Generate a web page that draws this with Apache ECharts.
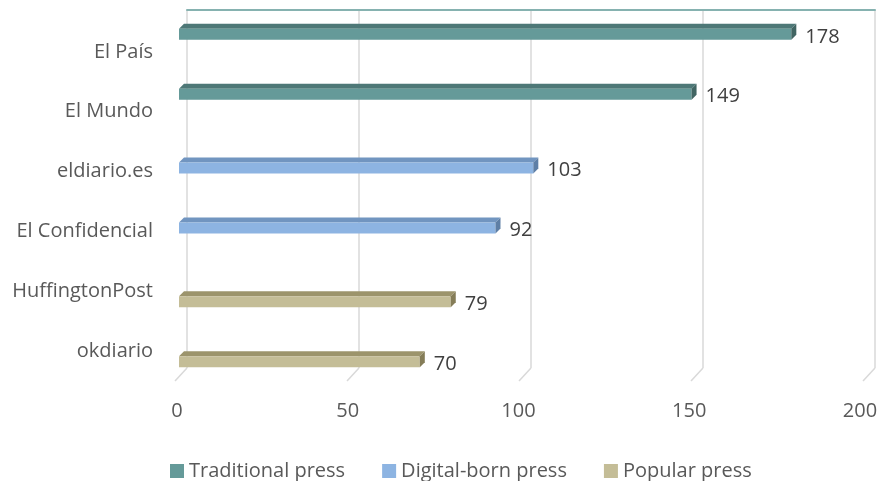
<!DOCTYPE html>
<html>
<head>
<meta charset="utf-8">
<script src="https://cdn.jsdelivr.net/npm/echarts@6/dist/echarts.min.js"></script>
<style>html,body{margin:0;padding:0;background:#fff;}#c{width:884px;height:481px;}</style>
</head>
<body>
<div id="c"></div>
<script>
var categories = ['El País', 'El Mundo', 'eldiario.es', 'El Confidencial', 'HuffingtonPost', 'okdiario'];
var seriesNames = ['Traditional press', 'Digital-born press', 'Popular press'];
var traditional = [178, 149, null, null, null, null];
var digital = [null, null, 103, 92, null, null];
var popular = [null, null, null, null, 79, 70];
var xTicks = [0, 50, 100, 150, 200];

var palette = [
  {front: '#659A99', top: '#4E7877', side: '#416563'},
  {front: '#8DB4E2', top: '#7195C0', side: '#5E7FA6'},
  {front: '#C4BD97', top: '#9C946C', side: '#857D58'}
];
var FONT = '"Open Sans", sans-serif';

function toData(arr) {
  var out = [];
  arr.forEach(function (v, i) { if (v != null) out.push([v, i]); });
  return out;
}

function bar3d(idx) {
  var col = palette[idx];
  return function (params, api) {
    var v = api.value(0), cat = api.value(1);
    var p0 = api.coord([0, cat]);
    var p1 = api.coord([v, cat]);
    var band = api.size([0, 1])[1];
    var cy = p0[1] + (idx - 1) * band * 0.235;
    var x0 = p0[0], x1 = p1[0];
    var dx = 5, dy = 5;
    var yt = cy - 4, yb = cy + 7;
    return {
      type: 'group',
      children: [
        {type: 'polygon', shape: {points: [[x0, yt], [x1, yt], [x1 + dx, yt - dy], [x0 + dx, yt - dy]]}, style: {fill: col.top}},
        {type: 'rect', shape: {x: x0, y: yt, width: x1 - x0, height: yb - yt}, style: {fill: col.front}},
        {type: 'polygon', shape: {points: [[x1, yt], [x1 + dx, yt - dy], [x1 + dx, yb - dy], [x1, yb]]}, style: {fill: col.side}},
        {type: 'text', style: {text: String(v), x: x1 + dx + 9, y: cy + 4, textVerticalAlign: 'middle', textAlign: 'left', fill: '#404040', font: '20px ' + FONT}}
      ]
    };
  };
}

function floorLines(params, api) {
  var t = api.value(0);
  var p = api.coord([t, 0]);
  var bottom = params.coordSys.y + params.coordSys.height;
  return {
    type: 'line',
    shape: {x1: p[0], y1: bottom, x2: p[0] - 12, y2: bottom + 13},
    style: {stroke: '#D9D9D9', lineWidth: 1.5}
  };
}

var chart = echarts.init(document.getElementById('c'), null, {renderer: 'canvas'});
var option = {
  animation: false,
  backgroundColor: '#fff',
  textStyle: {fontFamily: FONT},
  grid: [
    {left: 187, right: 9, top: 10, bottom: 113},
    {left: 179, right: 17, top: 17, bottom: 105},
    {left: 177, right: 24, top: 370, height: 20},
    {left: 179, right: 17, top: 22, bottom: 100}
  ],
  xAxis: [
    {gridIndex: 0, type: 'value', min: 0, max: 200, interval: 50, position: 'top',
      axisLine: {show: true, lineStyle: {color: '#86B2B0', width: 2}},
      axisTick: {show: false}, axisLabel: {show: false},
      splitLine: {show: true, lineStyle: {color: '#D9D9D9', width: 1.5}}},
    {gridIndex: 1, type: 'value', min: 0, max: 200, interval: 50,
      axisLine: {show: false}, axisTick: {show: false}, axisLabel: {show: false}, splitLine: {show: false}},
    {gridIndex: 2, type: 'value', min: 0, max: 200, interval: 50,
      axisLine: {show: false}, axisTick: {show: false}, splitLine: {show: false},
      axisLabel: {show: true, margin: 11, color: '#595959', fontSize: 20, fontFamily: FONT}},
    {gridIndex: 3, type: 'value', min: 0, max: 200, show: false}
  ],
  yAxis: [
    {gridIndex: 0, type: 'category', data: categories, inverse: true, show: false},
    {gridIndex: 1, type: 'category', data: categories, inverse: true, show: false},
    {gridIndex: 2, type: 'value', show: false},
    {gridIndex: 3, type: 'category', data: categories, inverse: true,
      axisLine: {show: false}, axisTick: {show: false}, splitLine: {show: false},
      axisLabel: {margin: 26, color: '#595959', fontSize: 20, fontFamily: FONT}}
  ],
  legend: {
    left: 165, top: 456,
    icon: 'rect', itemWidth: 14, itemHeight: 14, itemGap: 37,
    textStyle: {color: '#595959', fontSize: 20, fontFamily: FONT},
    data: seriesNames
  },
  series: [
    {type: 'custom', name: 'floor', xAxisIndex: 0, yAxisIndex: 0, renderItem: floorLines,
      data: xTicks.map(function (t) { return [t]; }), silent: true, z: 1},
    {type: 'custom', name: seriesNames[0], xAxisIndex: 1, yAxisIndex: 1, renderItem: bar3d(0),
      itemStyle: {color: palette[0].front}, encode: {x: 0, y: 1}, data: toData(traditional), z: 3},
    {type: 'custom', name: seriesNames[1], xAxisIndex: 1, yAxisIndex: 1, renderItem: bar3d(1),
      itemStyle: {color: palette[1].front}, encode: {x: 0, y: 1}, data: toData(digital), z: 3},
    {type: 'custom', name: seriesNames[2], xAxisIndex: 1, yAxisIndex: 1, renderItem: bar3d(2),
      itemStyle: {color: palette[2].front}, encode: {x: 0, y: 1}, data: toData(popular), z: 3}
  ]
};
chart.setOption(option);
</script>
</body>
</html>
